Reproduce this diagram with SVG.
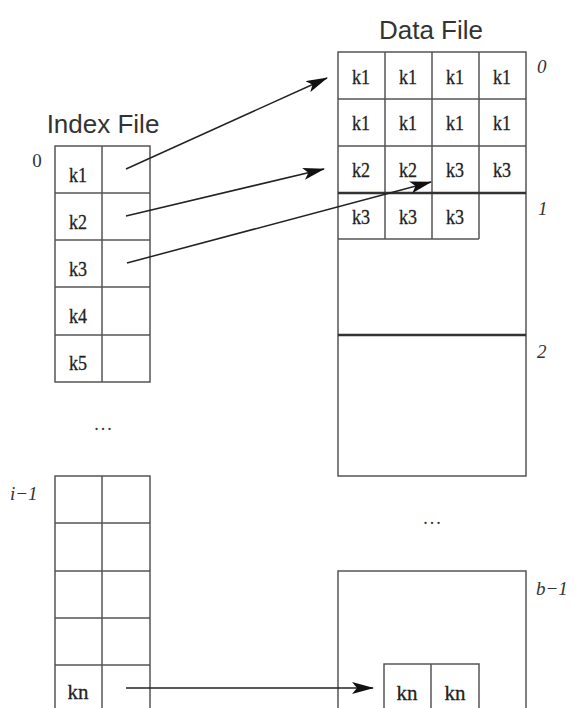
<svg xmlns="http://www.w3.org/2000/svg" width="577" height="708" viewBox="0 0 577 708">
<style>
.cell{fill:none;stroke:#555;stroke-width:1.5}
.sep{stroke:#333;stroke-width:2.5}
.k{font-family:"Liberation Serif",serif;font-size:22px;fill:#222;stroke:#222;stroke-width:0.3;text-anchor:middle}
.title{font-family:"Liberation Sans",sans-serif;font-size:26px;fill:#333;text-anchor:middle}
.lab{font-family:"Liberation Serif",serif;font-size:19px;fill:#333;font-style:italic}
.dots{font-family:"Liberation Serif",serif;font-size:18px;fill:#333;text-anchor:middle;letter-spacing:2px}
.conn{stroke:#222;stroke-width:1.5;fill:none;marker-end:url(#ah)}
</style>
<defs>
<marker id="ah" markerWidth="22" markerHeight="12" refX="21" refY="6" orient="auto" markerUnits="userSpaceOnUse">
<path d="M0,0 L22,6 L0,12 L5,6 Z" fill="#111"/>
</marker>
</defs>
<rect width="577" height="708" fill="#fff"/>

<g id="index-file">
<text class="title" x="103" y="133">Index File</text>
<text x="37" y="167" font-family="Liberation Serif,serif" font-size="19" fill="#333" text-anchor="middle">0</text>
<rect class="cell" x="55" y="146" width="95" height="236"/>
<line class="cell" x1="102" y1="146" x2="102" y2="382"/>
<line class="cell" x1="55" y1="193" x2="150" y2="193"/>
<line class="cell" x1="55" y1="240" x2="150" y2="240"/>
<line class="cell" x1="55" y1="287" x2="150" y2="287"/>
<line class="cell" x1="55" y1="335" x2="150" y2="335"/>
<text class="k" x="78" y="182" textLength="18" lengthAdjust="spacingAndGlyphs">k1</text>
<text class="k" x="78" y="229" textLength="18" lengthAdjust="spacingAndGlyphs">k2</text>
<text class="k" x="78" y="276" textLength="18" lengthAdjust="spacingAndGlyphs">k3</text>
<text class="k" x="78" y="323" textLength="18" lengthAdjust="spacingAndGlyphs">k4</text>
<text class="k" x="78" y="370" textLength="18" lengthAdjust="spacingAndGlyphs">k5</text>
<text class="dots" x="104" y="430">...</text>
<text class="lab" x="10" y="500">i−1</text>
<path class="cell" d="M55,708 V476 H150 V708 M102,476 V708 M55,523 H150 M55,571 H150 M55,618 H150 M55,665 H150"/>
<text class="k" x="78" y="699" textLength="21" lengthAdjust="spacingAndGlyphs">kn</text>
</g>

<g id="data-file">
<text class="title" x="431" y="39">Data File</text>
<rect class="cell" x="338" y="52" width="188" height="424"/>
<line class="cell" x1="338" y1="99" x2="526" y2="99"/>
<line class="cell" x1="338" y1="146" x2="526" y2="146"/>
<line class="cell" x1="385" y1="52" x2="385" y2="239"/>
<line class="cell" x1="432" y1="52" x2="432" y2="239"/>
<line class="cell" x1="479" y1="52" x2="479" y2="239"/>
<line class="cell" x1="338" y1="239" x2="479" y2="239"/>
<line class="sep" x1="338" y1="193" x2="526" y2="193"/>
<line class="sep" x1="338" y1="335" x2="526" y2="335"/>
<text class="k" x="361" y="84" textLength="18" lengthAdjust="spacingAndGlyphs">k1</text><text class="k" x="408" y="84" textLength="18" lengthAdjust="spacingAndGlyphs">k1</text><text class="k" x="455" y="84" textLength="18" lengthAdjust="spacingAndGlyphs">k1</text><text class="k" x="502" y="84" textLength="18" lengthAdjust="spacingAndGlyphs">k1</text>
<text class="k" x="361" y="130" textLength="18" lengthAdjust="spacingAndGlyphs">k1</text><text class="k" x="408" y="130" textLength="18" lengthAdjust="spacingAndGlyphs">k1</text><text class="k" x="455" y="130" textLength="18" lengthAdjust="spacingAndGlyphs">k1</text><text class="k" x="502" y="130" textLength="18" lengthAdjust="spacingAndGlyphs">k1</text>
<text class="k" x="361" y="177" textLength="18" lengthAdjust="spacingAndGlyphs">k2</text><text class="k" x="408" y="177" textLength="18" lengthAdjust="spacingAndGlyphs">k2</text><text class="k" x="455" y="177" textLength="18" lengthAdjust="spacingAndGlyphs">k3</text><text class="k" x="502" y="177" textLength="18" lengthAdjust="spacingAndGlyphs">k3</text>
<text class="k" x="361" y="224" textLength="18" lengthAdjust="spacingAndGlyphs">k3</text><text class="k" x="408" y="224" textLength="18" lengthAdjust="spacingAndGlyphs">k3</text><text class="k" x="455" y="224" textLength="18" lengthAdjust="spacingAndGlyphs">k3</text>
<text class="lab" x="537" y="73">0</text>
<text class="lab" x="538" y="215">1</text>
<text class="lab" x="537" y="358">2</text>
<text class="dots" x="433" y="524">...</text>
<path class="cell" d="M338,708 V571 H526 V708"/>
<text class="lab" x="536" y="595">b−1</text>
<path class="cell" d="M384,708 V664 H479 V708 M431,664 V708"/>
<text class="k" x="407" y="700" textLength="21" lengthAdjust="spacingAndGlyphs">kn</text>
<text class="k" x="455" y="700" textLength="21" lengthAdjust="spacingAndGlyphs">kn</text>
</g>

<g id="connectors">
<line class="conn" x1="126" y1="169" x2="327" y2="78"/>
<line class="conn" x1="126" y1="216" x2="324" y2="169"/>
<line class="conn" x1="127" y1="263" x2="431" y2="182"/>
<line class="conn" x1="126" y1="688" x2="373" y2="688"/>
</g>
</svg>
